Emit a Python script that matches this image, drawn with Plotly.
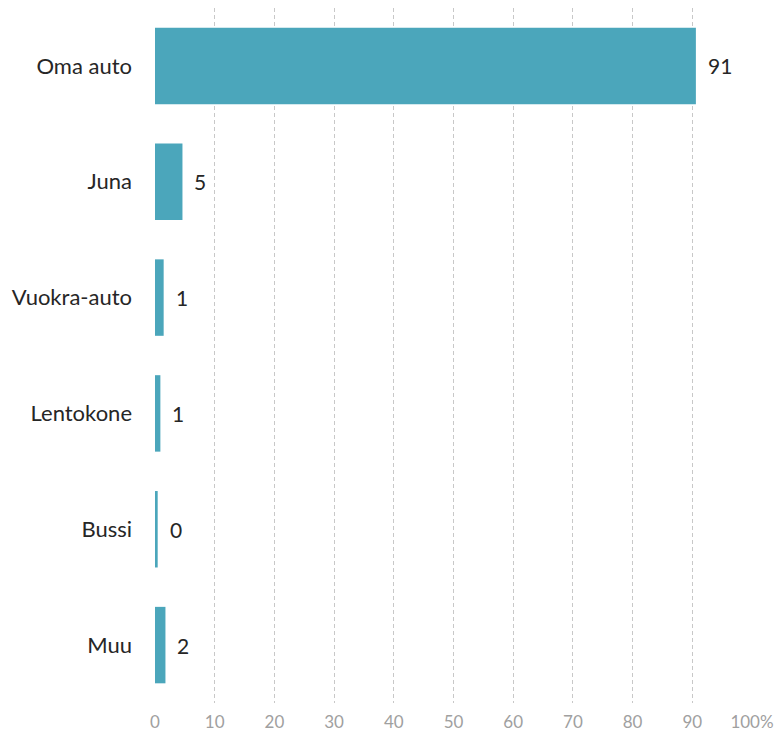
import plotly.graph_objects as go

# Travel mode shares (%)
modes = ["Oma auto", "Juna", "Vuokra-auto", "Lentokone", "Bussi", "Muu"]
shares = [90.6, 4.6, 1.45, 0.9, 0.45, 1.75]
tick_values = [0, 10, 20, 30, 40, 50, 60, 70, 80, 90, 100]
tick_labels = ["0", "10", "20", "30", "40", "50", "60", "70", "80", "90", "100%"]

bar_color = "#4BA6BB"
font_family = "Lato, 'Open Sans', sans-serif"

fig = go.Figure()
fig.add_trace(go.Bar(
    y=modes,
    x=shares,
    orientation="h",
    marker=dict(color=bar_color, line=dict(width=0)),
    hoverinfo="skip",
))

for m, v in zip(modes, shares):
    fig.add_annotation(
        x=v, y=m, text=f"{v:.0f}", showarrow=False,
        xanchor="left", xshift=10,
        font=dict(family=font_family, size=21, color="#262626"),
    )

fig.update_layout(
    width=783, height=738,
    margin=dict(l=155, r=31, t=8, b=35),
    paper_bgcolor="white", plot_bgcolor="white",
    bargap=0.34,
    showlegend=False,
    font=dict(family=font_family),
)
fig.update_xaxes(
    range=[0, 100],
    tickvals=tick_values, ticktext=tick_labels,
    showgrid=True, gridcolor="#C8C8C8", griddash="4px,3px", gridwidth=1,
    zeroline=False, showline=False,
    tickfont=dict(size=17, color="#A0A0A0"),
    ticks="", ticklabelstandoff=7,
    automargin=False,
)
fig.update_yaxes(
    categoryorder="array", categoryarray=modes,
    autorange="reversed",
    showgrid=False, zeroline=False, showline=False,
    ticks="", ticklabelstandoff=22,
    tickfont=dict(size=22, color="#262626"),
    automargin=False,
)

fig.write_html("out.html")
